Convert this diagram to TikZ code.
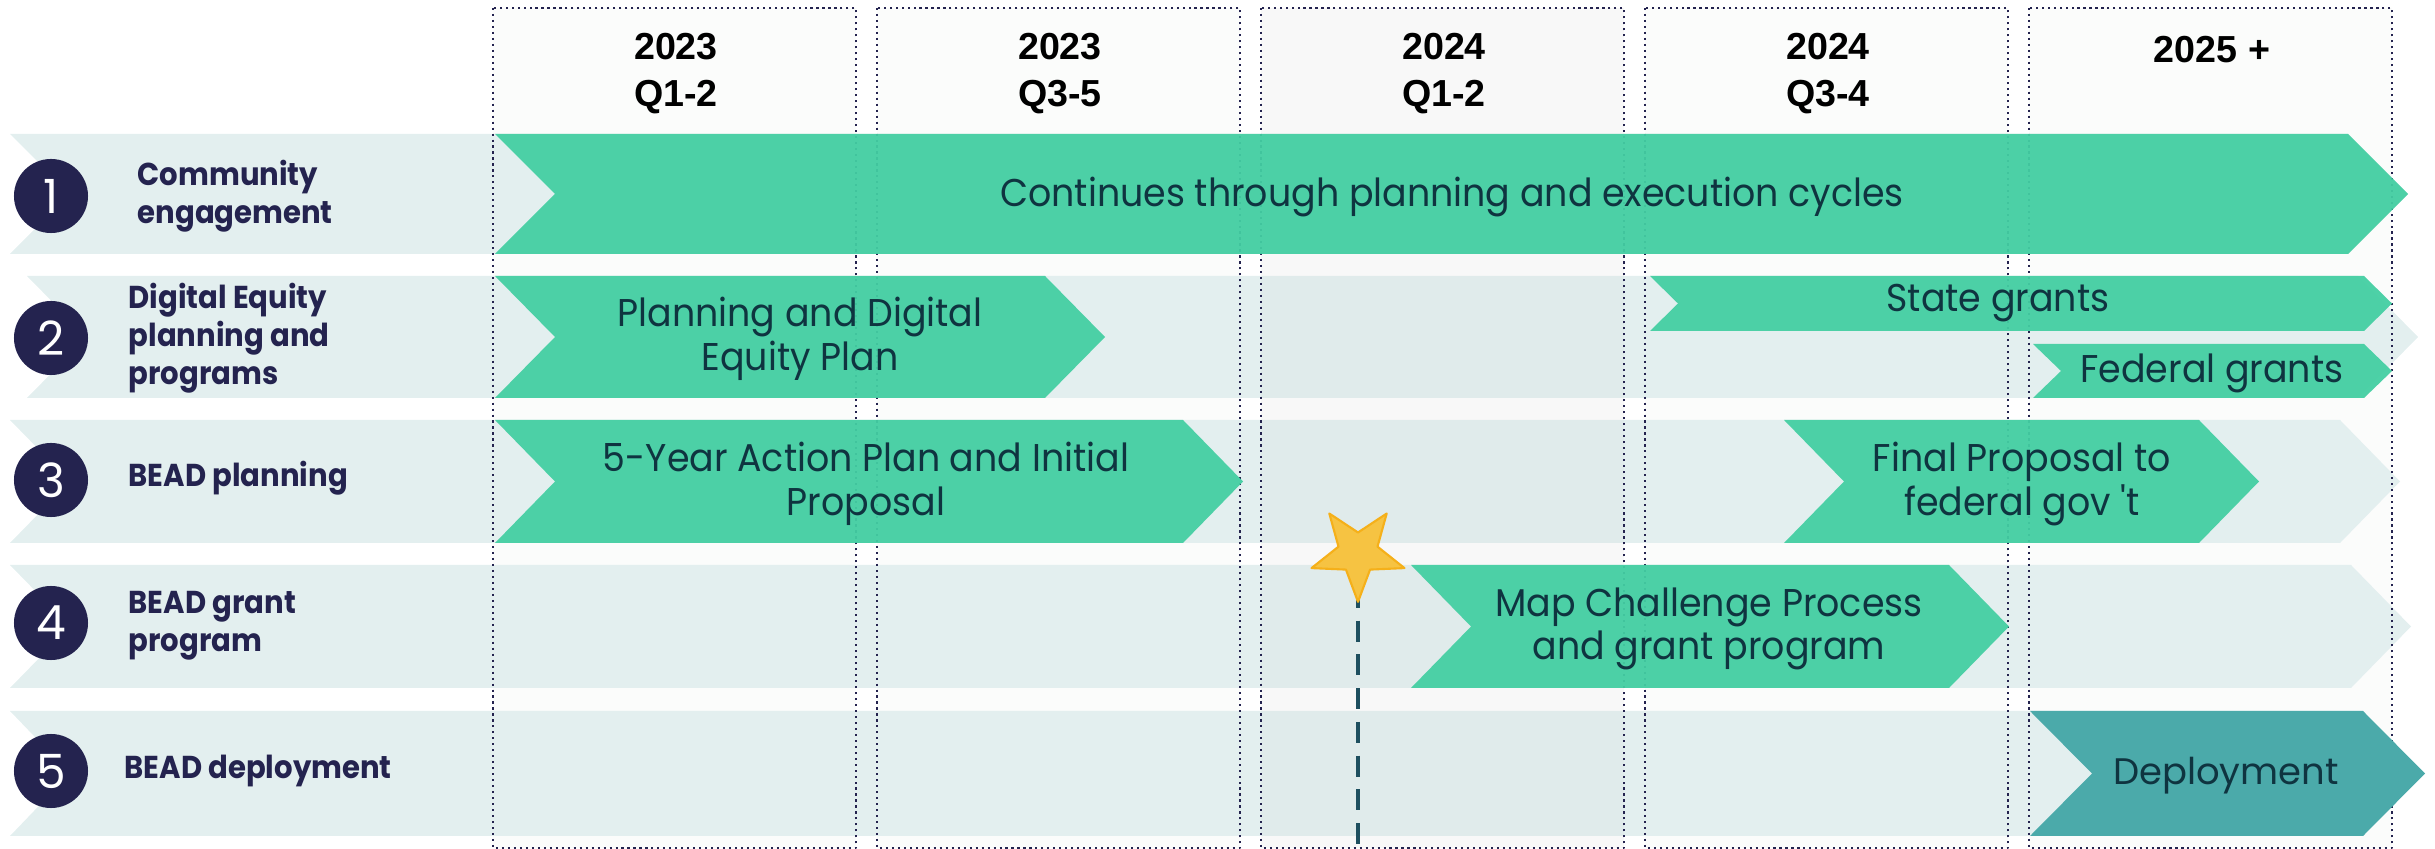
\documentclass[tikz,border=0pt]{standalone}
\usepackage{fontspec}
\setmainfont{Poppins}
\newfontfamily\headfont{Liberation Sans}
\newfontfamily\rowfont[FakeStretch=0.92]{Poppins}
\newfontfamily\taskfont[FakeStretch=0.94]{Poppins}
\usetikzlibrary{shapes.geometric}
\definecolor{rowbg}{HTML}{E3EFEF}
\definecolor{rowbgmid}{HTML}{E0EBEB}
\definecolor{taskgreen}{HTML}{43CFA2}
\definecolor{deployteal}{HTML}{4BAAAA}
\definecolor{navy}{HTML}{24234F}
\definecolor{tasktext}{HTML}{0F3440}
\definecolor{colfill}{HTML}{FBFCFB}
\definecolor{colfillmid}{HTML}{F8F8F8}
\definecolor{stargold}{HTML}{F6C342}
\definecolor{staredge}{HTML}{F5B01A}
\definecolor{dashteal}{HTML}{1E4F5F}
% chevron: style, left x, top y, tip x, bottom y, depth
\newcommand{\chev}[6]{\fill[#1] (#2,#3) -- ({#4-#6},#3) -- (#4,{(#3+#5)/2})
  -- ({#4-#6},#5) -- (#2,#5) -- ({#2+#6},{(#3+#5)/2}) -- cycle;}
\begin{document}
\begin{tikzpicture}[x=0.01cm, y=-0.01cm, line join=round,
    colbox/.style={draw=navy, line width=0.6pt, dash pattern=on 0.6pt off 1.1pt},
    head/.style={font=\headfont\bfseries\fontsize{10.7}{13.4}\selectfont, align=center, text=black},
    num/.style={circle, fill=navy, minimum size=0.74cm, inner sep=0pt, text=white,
      font=\fontsize{13.4}{14}\selectfont},
    rowlabel/.style={anchor=west, align=left, text=navy, inner sep=0pt,
      font=\rowfont\bfseries\fontsize{9}{10.8}\selectfont},
    task/.style={align=center, text=tasktext, inner sep=0pt,
      font=\taskfont\fontsize{11}{12.4}\selectfont},
    green/.style={fill=taskgreen, fill opacity=0.94},
    milestone/.style={draw=dashteal, line width=1.1pt, dash pattern=on 6pt off 3.6pt},
    starshape/.style={star, star points=5, star point ratio=0.42, minimum size=0.41cm,
      inner sep=0pt, fill=stargold, draw=staredge, line width=0.6pt}]
\useasboundingbox (0,0) rectangle (2435,849);

% column backgrounds
\foreach \cx in {493,877,1261,1645,2029}
  \fill[colfill] (\cx,8) rectangle ({\cx+363},848);
\fill[colfillmid] (1261,8) rectangle (1624,848);

% row bands
\foreach \lx/\ty/\by/\tx in {10/134/254/2408, 27/276/398/2418, 10/420/543/2400,
    10/565/688/2411, 10/711/836/2420}
  \chev{rowbg}{\lx}{\ty}{\tx}{\by}{60}
\foreach \ty/\by in {134/254, 276/398, 420/543, 565/688, 711/836}
  \fill[rowbgmid] (1261,\ty) rectangle (1624,\by);

% column frames
\foreach \cx in {493,877,1261,1645,2029}
  \draw[colbox] (\cx,8) rectangle ({\cx+363},848);

% headers
\node[head] (h1) at (676,74) {2023\\Q1-2};
\node[head] (h2) at (1060,74) {2023\\Q3-5};
\node[head] (h3) at (1444,74) {2024\\Q1-2};
\node[head] (h4) at (1828,74) {2024\\Q3-4};
\node[head] (h5) at (2212,50) {2025 +};

% activity bars
\chev{green}{495}{134}{2408}{254}{60}
\chev{green}{495}{276}{1105}{398}{60}
\chev{green}{1650}{276}{2392}{331}{28}
\chev{green}{2033}{344}{2392}{398}{28}
\chev{green}{495}{420}{1243}{543}{60}
\chev{green}{1784}{420}{2259}{543}{60}
\chev{green}{1411}{565}{2009}{688}{60}
\chev{fill=deployteal}{2030}{711}{2425}{836}{62}

% milestone
\coordinate (starpt) at (1358,553);
\coordinate (dashend) at (1358,849);
\draw[milestone] (starpt) -- (dashend);
\node[starshape] (star) at (starpt) {};

% row numbers and labels
\foreach \n/\y in {1/196,2/338,3/480,4/623,5/771}
  \node[num] (n\n) at (51,\y) {\n};
\node[rowlabel] (l1) at (137,196) {Community\\engagement};
\node[rowlabel] (l2) at (128,338) {Digital Equity\\planning and\\programs};
\node[rowlabel] (l3) at (128,478) {BEAD planning};
\node[rowlabel] (l4) at (128,626) {BEAD grant\\program};
\node[rowlabel] (l5) at (124,771) {BEAD deployment};

% bar texts
\node[task] (t1) at (1452,197) {Continues through planning and execution cycles};
\node[task] (t2) at (800,339) {Planning and Digital\\Equity Plan};
\node[task] (t3) at (1998,303) {State grants};
\node[task] (t4) at (2212,373) {Federal grants};
\node[task] (t5) at (866,484) {5-Year Action Plan and Initial\\Proposal};
\node[task] (t6) at (2022,484) {Final Proposal to\\federal gov 't};
\node[task] (t7) at (1709,629) {Map Challenge Process\\and grant program};
\node[task, font=\fontsize{10.5}{12.4}\selectfont] (t8) at (2226,776) {Deployment};
\end{tikzpicture}
\end{document}
